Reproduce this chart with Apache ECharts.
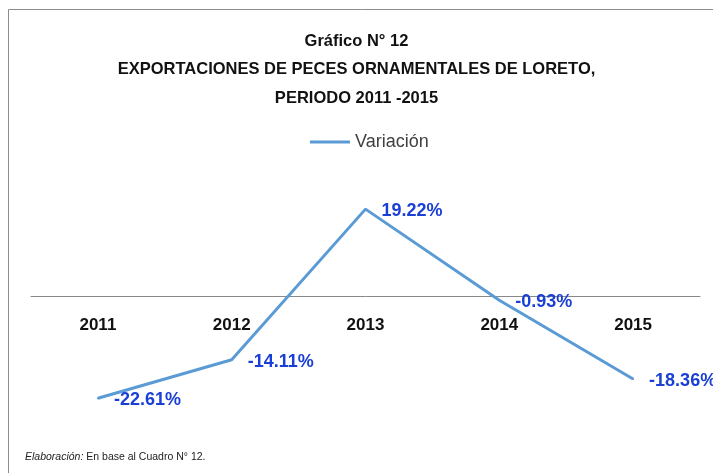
<!DOCTYPE html>
<html><head><meta charset="utf-8">
<script src="https://cdn.jsdelivr.net/npm/echarts@6/dist/echarts.min.js"></script>
<style>html,body{margin:0;padding:0;background:#fff}#c{width:713px;height:473px}</style>
</head><body><div id="c"></div>
<script>
const categories = ['2011','2012','2013','2014','2015'];
const variacion = [-22.61, -14.11, 19.22, -0.93, -18.36];
const titleLines = ['Gráfico N° 12','EXPORTACIONES DE PECES ORNAMENTALES DE LORETO,','PERIODO 2011 -2015'];
const FONT = '"Liberation Sans",sans-serif';
const chart = echarts.init(document.getElementById('c'));
chart.setOption({
  animation:false,
  graphic:[
    {type:'rect',shape:{x:8.5,y:9.5,width:800,height:600},style:{fill:'none',stroke:'#8c8c8c',lineWidth:1}},
    {type:'text',left:25,top:452,style:{text:'{i|Elaboración:} En base al Cuadro N° 12.',fill:'#222',font:'10.5px '+FONT,rich:{i:{fontStyle:'italic',fontSize:10.5,fontFamily:FONT}}}}
  ],
  title:{text:titleLines.join('\n'),left:'center',top:22,textStyle:{fontFamily:FONT,fontWeight:'bold',fontSize:16.5,lineHeight:28.5,color:'#111'}},
  legend:{top:128,left:305,itemWidth:40,itemHeight:3,itemGap:8,textStyle:{fontFamily:FONT,fontSize:18,color:'#404040'},data:[{name:'Variación',icon:'rect',itemStyle:{color:'#5B9BD5',opacity:1}}]},
  grid:{left:31,right:13,top:183,bottom:64},
  xAxis:{type:'category',data:categories,boundaryGap:true,offset:-113.2,axisLine:{onZero:false,lineStyle:{color:'#888',width:1}},axisTick:{show:false},axisLabel:{margin:21,fontFamily:FONT,fontWeight:'bold',fontSize:17,color:'#111'}},
  yAxis:{type:'value',min:-25,max:25,show:false,splitLine:{show:false}},
  series:[{name:'Variación',type:'line',data:variacion,showSymbol:true,symbol:'circle',symbolSize:2,lineStyle:{color:'#5B9BD5',width:3},itemStyle:{color:'#5B9BD5'},
    label:{show:true,position:'right',distance:15,offset:[0,2],formatter:p=>p.value.toFixed(2)+'%',fontFamily:FONT,fontWeight:'bold',fontSize:18,color:'#1a3fd6'}}]
});
</script></body></html>
